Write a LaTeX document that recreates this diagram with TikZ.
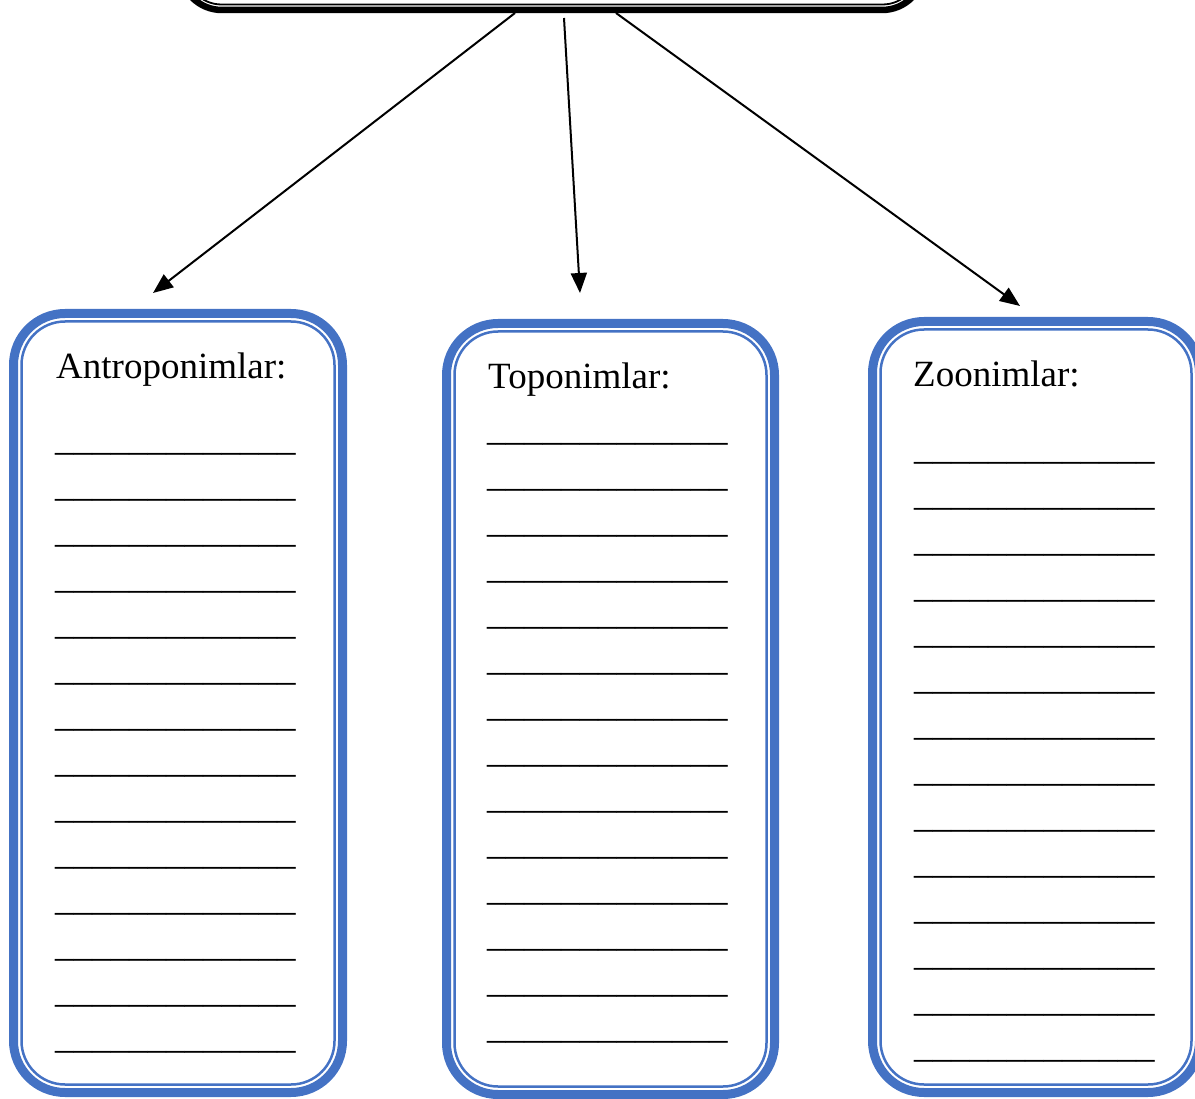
\documentclass[tikz,border=0pt]{standalone}
\usepackage{fontspec}
\setmainfont{Liberation Serif}
\usetikzlibrary{arrows.meta,calc}
\definecolor{wblue}{HTML}{4472C4}
\begin{document}
\begin{tikzpicture}[x=1pt,y=-1pt,
  outerblue/.style={draw=wblue,line width=9pt,rounded corners=51.5pt,inner sep=0pt,outer sep=0pt},
  innerblue/.style={draw=wblue,line width=2.5pt,rounded corners=43.5pt},
  topouter/.style={draw=black,line width=6.5pt,rounded corners=42pt,inner sep=0pt,outer sep=0pt},
  topinner/.style={draw=black,line width=1.8pt,rounded corners=36pt},
  arr/.style={line width=2pt,-{Triangle[length=20pt,width=16pt]}},
  lbl/.style={anchor=base west,inner sep=0pt,font=\fontsize{37}{44}\selectfont},
]
\useasboundingbox (0,0) rectangle (1195,1099);
\clip (0,0) rectangle (1195,1099);

% top box (cut off by the page top)
\node[topouter,minimum width=744pt,minimum height=110pt] (top) at (552,-45) {};
\draw[topinner] ($(top.north west)+(5.5,5.5)$) rectangle ($(top.south east)+(-5.5,-5.5)$);

% blue boxes
\node[outerblue,minimum width=329pt,minimum height=779pt] (b1) at (178,703) {};
\draw[innerblue] ($(b1.north west)+(8,8)$) rectangle ($(b1.south east)+(-8,-8)$);
\node[outerblue,minimum width=328pt,minimum height=771pt] (b2) at (610.5,709) {};
\draw[innerblue] ($(b2.north west)+(8,8)$) rectangle ($(b2.south east)+(-8,-8)$);
\node[outerblue,minimum width=327pt,minimum height=771pt] (b3) at (1036,707) {};
\draw[innerblue] ($(b3.north west)+(8,8)$) rectangle ($(b3.south east)+(-8,-8)$);

% arrows
\coordinate (s1) at (515,13);
\coordinate (s2) at (564,18);
\coordinate (s3) at (616,13);
\coordinate (t1) at (153,293);
\coordinate (t2) at (580,293);
\coordinate (t3) at (1020,306);
\draw[arr] (s1) -- (t1);
\draw[arr] (s2) -- (t2);
\draw[arr] (s3) -- (t3);

% titles
\node[lbl] (h1) at (56,378.5) {Antroponimlar:};
\node[lbl] (h2) at (488,389) {Toponimlar:};
\node[lbl] (h3) at (913,387) {Zoonimlar:};

% writing lines
\foreach \i in {0,...,13}{
  \node[lbl] (la\i) at (55,450.8+46*\i) {\_\_\_\_\_\_\_\_\_\_\_\_\_};
  \node[lbl] (lb\i) at (487,440.3+46*\i) {\_\_\_\_\_\_\_\_\_\_\_\_\_};
  \node[lbl] (lc\i) at (914,459.3+46*\i) {\_\_\_\_\_\_\_\_\_\_\_\_\_};
}
\end{tikzpicture}
\end{document}
